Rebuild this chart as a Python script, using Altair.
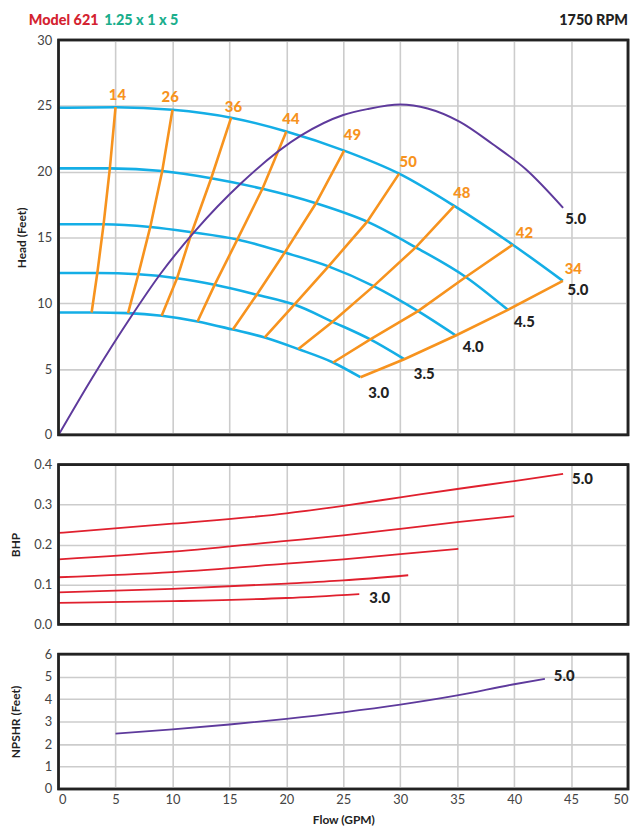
import altair as alt
import pandas as pd

# ---------------- data ----------------
FLOW_TICKS = list(range(0, 55, 5))
HEAD_TICKS = list(range(0, 35, 5))
BHP_TICKS = [0.0, 0.1, 0.2, 0.3, 0.4]
NPSHR_TICKS = list(range(0, 7))

impellers = ["5.0", "4.5", "4.0", "3.5", "3.0"]

# head-capacity curves (flow GPM, head ft)
hc_flow = {
    "5.0": [0, 5.0, 10.0, 15.15, 20.0, 25.07, 29.9, 34.74, 39.88, 44.28],
    "4.5": [0, 4.5, 9.1, 13.4, 17.9, 22.6, 27.1, 31.36, 35.75, 39.45],
    "4.0": [0, 3.95, 8.05, 11.7, 15.7, 19.85, 23.7, 27.66, 31.56, 34.88],
    "3.5": [0, 3.4, 7.0, 10.4, 13.7, 17.4, 20.7, 24.06, 27.37, 30.35],
    "3.0": [0, 2.9, 6.1, 9.05, 12.2, 15.3, 18.1, 21.05, 24.1, 26.5],
}
hc_head = {
    "5.0": [24.85, 24.9, 24.7, 24.1, 23.05, 21.6, 19.85, 17.4, 14.45, 11.7],
    "4.5": [20.25, 20.25, 20.05, 19.5, 18.7, 17.6, 16.2, 14.25, 12.0, 9.5],
    "4.0": [16.0, 16.0, 15.8, 15.4, 14.85, 13.85, 12.8, 11.3, 9.4, 7.55],
    "3.5": [12.3, 12.3, 12.2, 11.9, 11.4, 10.65, 9.9, 8.59, 7.25, 5.75],
    "3.0": [9.3, 9.3, 9.25, 9.05, 8.62, 8.0, 7.4, 6.52, 5.5, 4.38],
}
# impeller label anchors (flow, head)
imp_lab_flow = [45.6, 40.9, 36.4, 32.1, 28.1]
imp_lab_head = [11.0, 8.56, 6.7, 4.6, 3.2]

# efficiency lines (points on 5.0, 4.5, 4.0, 3.5, 3.0 curves)
eff_names = ["14", "26", "36", "44", "49", "50", "48", "42", "34"]
eff_flow = [
    [5.0, 4.5, 3.95, 3.4, 2.9],
    [10.0, 9.1, 8.05, 7.0, 6.1],
    [15.15, 13.4, 11.7, 10.4, 9.05],
    [20.0, 17.9, 15.7, 13.7, 12.2],
    [25.07, 22.6, 19.85, 17.4, 15.3],
    [29.9, 27.1, 23.7, 20.7, 18.1],
    [34.74, 31.36, 27.66, 24.06, 21.05],
    [39.88, 35.75, 31.56, 27.37, 24.1],
    [44.28, 39.45, 34.88, 30.35, 26.5],
]
eff_head = [
    [24.9, 20.25, 16.0, 12.3, 9.3],
    [24.7, 20.05, 15.8, 12.2, 9.25],
    [24.1, 19.5, 15.4, 11.9, 9.05],
    [23.05, 18.7, 14.85, 11.4, 8.62],
    [21.6, 17.6, 13.85, 10.65, 8.0],
    [19.85, 16.2, 12.8, 9.9, 7.4],
    [17.4, 14.25, 11.3, 8.59, 6.52],
    [14.45, 12.0, 9.4, 7.25, 5.5],
    [11.7, 9.5, 7.55, 5.75, 4.38],
]
eff_lab_flow = [5.17, 9.8, 15.35, 20.4, 25.8, 30.7, 35.4, 40.9, 45.2]
eff_lab_head = [25.85, 25.65, 24.9, 24.0, 22.75, 20.75, 18.4, 15.35, 12.6]

# purple curve in head chart
pc_flow = [0, 3, 6.3, 9, 12, 16, 21.3, 25, 27.1, 30, 32.4, 35.2, 38.1, 41.0, 44.3]
pc_head = [0, 4.4, 8.9, 12.3, 15.5, 19.1, 22.75, 24.3, 24.75, 25.1, 24.8, 23.8, 22.1, 20.2, 17.25]
pc_label = ["5.0", 45.4, 16.4]

# BHP curves
bhp_flow = {
    "5.0": [0, 10, 20, 25, 30, 35, 40, 44.3],
    "4.5": [0, 10, 20, 25, 30, 35, 40],
    "4.0": [0, 10, 20, 25, 30, 35.1],
    "3.5": [0, 10, 20, 25, 30.7],
    "3.0": [0, 10, 20, 26.4],
}
bhp_vals = {
    "5.0": [0.229, 0.252, 0.278, 0.297, 0.318, 0.339, 0.359, 0.377],
    "4.5": [0.163, 0.182, 0.209, 0.223, 0.239, 0.256, 0.271],
    "4.0": [0.118, 0.131, 0.152, 0.163, 0.176, 0.189],
    "3.5": [0.080, 0.089, 0.102, 0.110, 0.123],
    "3.0": [0.054, 0.058, 0.066, 0.076],
}
bhp_lab = [["5.0", 46.0, 0.364], ["3.0", 28.2, 0.065]]

# NPSHR curve
np_flow = [5.0, 10, 15, 20, 25, 30, 35, 40, 42.7]
np_vals = [2.46, 2.65, 2.87, 3.12, 3.41, 3.75, 4.16, 4.66, 4.9]
np_lab = ["5.0", 44.4, 5.03]

# ---------------- tables ----------------
hc_df = pd.DataFrame([
    {"imp": k, "flow": f, "head": h}
    for k in impellers for f, h in zip(hc_flow[k], hc_head[k])
])
imp_lab_df = pd.DataFrame({"t": impellers, "flow": imp_lab_flow, "head": imp_lab_head})
eff_df = pd.DataFrame([
    {"eff": n, "i": i, "flow": f, "head": h}
    for n, fl, hl in zip(eff_names, eff_flow, eff_head)
    for i, (f, h) in enumerate(zip(fl, hl))
])
eff_lab_df = pd.DataFrame({"t": eff_names, "flow": eff_lab_flow, "head": eff_lab_head})
pc_df = pd.DataFrame({"flow": pc_flow, "head": pc_head})
pc_lab_df = pd.DataFrame({"t": [pc_label[0]], "flow": [pc_label[1]], "head": [pc_label[2]]})
bhp_df = pd.DataFrame([
    {"imp": k, "flow": f, "bhp": b}
    for k in impellers for f, b in zip(bhp_flow[k], bhp_vals[k])
])
bhp_lab_df = pd.DataFrame(bhp_lab, columns=["t", "flow", "bhp"])
np_df = pd.DataFrame({"flow": np_flow, "npshr": np_vals})
np_lab_df = pd.DataFrame({"t": [np_lab[0]], "flow": [np_lab[1]], "npshr": [np_lab[2]]})

# ---------------- styling ----------------
FONT = "Lato"
CYAN = "#14aee6"
ORANGE = "#f7931e"
PURPLE = "#5e3a9c"
RED = "#e0202e"
FRAME = "#222222"
W = 574
H_HEAD, H_BHP, H_NP = 398, 161, 136
HEAVY = 900
one_row = pd.DataFrame({"a": [0]})


def xenc(show):
    if show:
        ax = alt.Axis(values=FLOW_TICKS, title="Flow (GPM)", ticks=False, domain=False,
                      labelOverlap=False, labelPadding=5, titlePadding=8)
    else:
        ax = alt.Axis(values=FLOW_TICKS, labels=False, ticks=False, domain=False,
                      title=None)
    return alt.X("flow:Q", scale=alt.Scale(domain=[0, 50], nice=False), axis=ax)


def yenc(field, dom, title, values, fmt, tx):
    ax = alt.Axis(values=values, format=fmt, title=title, titleX=tx,
                  titleBaseline="middle", labelOverlap=False,
                  ticks=False, domain=False, labelPadding=7)
    return alt.Y(field, scale=alt.Scale(domain=dom, nice=False), axis=ax)


def frame(h):
    return alt.Chart(one_row).mark_rect(
        fillOpacity=0, stroke=FRAME, strokeWidth=2.6).encode(
        x=alt.value(0), x2=alt.value(W), y=alt.value(0), y2=alt.value(h))


# ---------------- head chart ----------------
XH = xenc(False)
YH = yenc("head:Q", [0, 30], "Head (Feet)", HEAD_TICKS, "d", -37)

hc = alt.Chart(hc_df).mark_line(color=CYAN, strokeWidth=2.6, interpolate="monotone").encode(
    x=XH, y=YH, detail="imp:N")
eff = alt.Chart(eff_df).mark_line(color=ORANGE, strokeWidth=2.6).encode(
    x=XH, y=YH, detail="eff:N", order="i:Q")
pc = alt.Chart(pc_df).mark_line(color=PURPLE, strokeWidth=2.0, interpolate="monotone").encode(
    x=XH, y=YH)
eff_txt = alt.Chart(eff_lab_df).mark_text(
    color=ORANGE, font=FONT, fontWeight=HEAVY, fontSize=15).encode(
    x=XH, y=YH, text="t:N")
imp_txt = alt.Chart(imp_lab_df).mark_text(
    color="#222", font=FONT, fontWeight=HEAVY, fontSize=15).encode(
    x=XH, y=YH, text="t:N")
pc_txt = alt.Chart(pc_lab_df).mark_text(
    color="#222", font=FONT, fontWeight=HEAVY, fontSize=15).encode(
    x=XH, y=YH, text="t:N")

t1 = alt.Chart(one_row).mark_text(
    text="Model 621", color="#d42330", font=FONT, fontWeight=HEAVY, fontSize=14.5,
    align="left", baseline="middle").encode(x=alt.value(-30), y=alt.value(-19))
t2 = alt.Chart(one_row).mark_text(
    text="1.25 x 1 x 5", color="#1aae8c", font=FONT, fontWeight=HEAVY, fontSize=14.5,
    align="left", baseline="middle").encode(x=alt.value(46), y=alt.value(-19))
t3 = alt.Chart(one_row).mark_text(
    text="1750 RPM", color="#222", font=FONT, fontWeight=HEAVY, fontSize=14.5,
    align="right", baseline="middle").encode(x=alt.value(W), y=alt.value(-19))

head_chart = alt.layer(hc, eff, pc, eff_txt, imp_txt, pc_txt, frame(H_HEAD), t1, t2, t3
                       ).properties(width=W, height=H_HEAD)

# ---------------- BHP chart ----------------
XB = xenc(False)
YB = yenc("bhp:Q", [0, 0.4], "BHP", BHP_TICKS, ".1f", -43)
bl = alt.Chart(bhp_df).mark_line(color=RED, strokeWidth=1.8, interpolate="monotone").encode(
    x=XB, y=YB, detail="imp:N")
btxt = alt.Chart(bhp_lab_df).mark_text(
    color="#222", font=FONT, fontWeight=HEAVY, fontSize=15).encode(
    x=XB, y=YB, text="t:N")
bhp_chart = alt.layer(bl, btxt, frame(H_BHP)).properties(width=W, height=H_BHP)

# ---------------- NPSHR chart ----------------
XN = xenc(True)
YN = yenc("npshr:Q", [0, 6], "NPSHR (Feet)", NPSHR_TICKS, "d", -43)
nl = alt.Chart(np_df).mark_line(color=PURPLE, strokeWidth=1.8, interpolate="monotone").encode(
    x=XN, y=YN)
ntxt = alt.Chart(np_lab_df).mark_text(
    color="#222", font=FONT, fontWeight=HEAVY, fontSize=15).encode(
    x=XN, y=YN, text="t:N")
np_chart = alt.layer(nl, ntxt, frame(H_NP)).properties(width=W, height=H_NP)

chart = alt.vconcat(head_chart, bhp_chart, np_chart, spacing=30, bounds="flush").properties(
    padding={"left": 0, "top": 0, "right": 0, "bottom": 0}
).configure_view(
    stroke=FRAME, strokeWidth=2.5
).configure_axis(
    grid=True, gridColor="#cccccc", gridWidth=1.6,
    labelFont=FONT, labelFontSize=13, labelColor="#444",
    titleFont=FONT, titleFontSize=12, titleFontWeight="bold", titleColor="#222"
)

chart.save("out.html", embed_options={"renderer": "svg", "actions": False})
